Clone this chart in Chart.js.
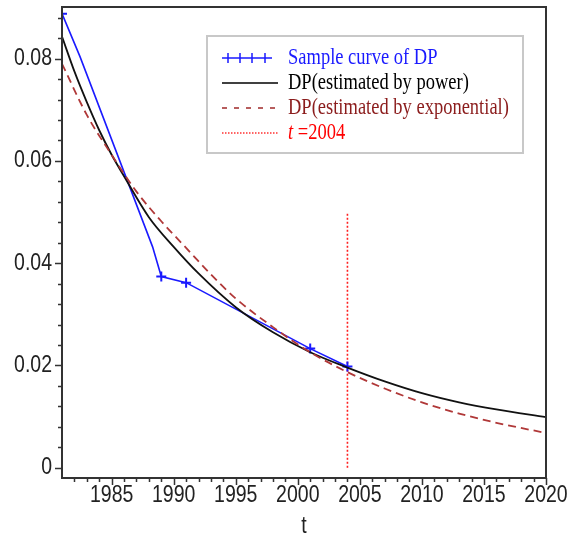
<!DOCTYPE html>
<html>
<head>
<meta charset="utf-8">
<script src="https://cdn.jsdelivr.net/npm/chart.js@4/dist/chart.umd.min.js"></script>
<style>
  html, body { margin: 0; padding: 0; background: #fff; }
</style>
</head>
<body>
<canvas id="dp-chart" width="582" height="541"></canvas>
<script>
// sample curve of DP: marked points, plus the bends of the drawn line
const sampleYears = [1981, 1989, 1991, 2001, 2004];
const sampleDP = [0.0888, 0.0374, 0.0362, 0.0233, 0.0198];
const curveYears = [1981, 1982.45, 1988.3, 1989, 1991, 2001, 2004];
const curveDP = [0.0888, 0.0804, 0.0432, 0.0374, 0.0362, 0.0233, 0.0198];

// DP estimated by power
const powerYears = [1981, 1982, 1983, 1984, 1985, 1986, 1988, 1990, 1992, 1995, 1998, 2001, 2004, 2007, 2010, 2013, 2016, 2020];
const powerDP = [0.0843, 0.0775, 0.0715, 0.0660, 0.0612, 0.0570, 0.0490, 0.0432, 0.0380, 0.0314, 0.0265, 0.0226, 0.0196, 0.0169, 0.0146, 0.0128, 0.0114, 0.0099];

// DP estimated by exponential
const expYears = [1981, 1983, 1985, 1987, 1989, 1991, 1993, 1995, 1998, 2001, 2004, 2007, 2010, 2013, 2016, 2020];
const expDP = [0.0790, 0.0690, 0.0612, 0.0540, 0.0482, 0.0430, 0.0378, 0.0331, 0.0275, 0.0226, 0.0187, 0.0155, 0.0128, 0.0106, 0.0088, 0.0068];

// t = 2004 marker line
const markYears = [2004, 2004];
const markDP = [0, 0.05];

const xTicks = [1985, 1990, 1995, 2000, 2005, 2010, 2015, 2020];
const xTickLabels = ['1985', '1990', '1995', '2000', '2005', '2010', '2015', '2020'];
const yTicks = [0, 0.02, 0.04, 0.06, 0.08];
const yTickLabels = ['0', '0.02', '0.04', '0.06', '0.08'];
const xTitle = 't';

const legendItems = [
  { text: 'Sample curve of DP', color: '#1a1aff' },
  { text: 'DP(estimated by power)', color: '#000000' },
  { text: 'DP(estimated by exponential)', color: '#8b1c1c' },
  { text: '=2004', italic: 't ', color: '#ff0000' }
];

function pts(xs, ys) {
  return xs.map((x, i) => ({ x: x, y: ys[i] }));
}

// the source picture is stretched a bit vertically, so text is drawn taller
function tallText(ctx, str, x, y, align) {
  ctx.save();
  ctx.translate(x, y);
  ctx.scale(1, 1.2);
  ctx.textAlign = align;
  ctx.fillText(str, 0, 0);
  ctx.restore();
}

// frame, outward ticks, tick labels and axis title
const framePlugin = {
  id: 'frame',
  afterDraw(chart) {
    const ctx = chart.ctx;
    const a = chart.chartArea;
    const xs = chart.scales.x, ys = chart.scales.y;
    ctx.save();
    ctx.strokeStyle = '#333';
    ctx.lineWidth = 2;
    ctx.strokeRect(a.left, a.top, a.right - a.left, a.bottom - a.top);
    ctx.lineWidth = 1.5;
    ctx.beginPath();
    for (let yr = 1982; yr <= 2020; yr++) {
      const px = Math.round(xs.getPixelForValue(yr)) + 0.5;
      const len = yr % 5 === 0 ? 7 : 4;
      ctx.moveTo(px, a.bottom);
      ctx.lineTo(px, a.bottom + len);
    }
    for (let k = 0; k <= 22; k++) {
      const py = Math.round(ys.getPixelForValue(k * 0.004)) + 0.5;
      const len = k % 5 === 0 ? 7 : 4;
      ctx.moveTo(a.left, py);
      ctx.lineTo(a.left - len, py);
    }
    ctx.stroke();

    ctx.fillStyle = '#222';
    ctx.font = '19.5px "Liberation Sans", Arial';
    ctx.textBaseline = 'middle';
    xTicks.forEach((v, i) => tallText(ctx, xTickLabels[i], xs.getPixelForValue(v), a.bottom + 18, 'center'));
    yTicks.forEach((v, i) => tallText(ctx, yTickLabels[i], a.left - 10, ys.getPixelForValue(v), 'right'));
    tallText(ctx, xTitle, (a.left + a.right) / 2, a.bottom + 49, 'center');
    ctx.restore();
  }
};

// boxed legend inside the plot
const legendPlugin = {
  id: 'boxLegend',
  afterDraw(chart) {
    const ctx = chart.ctx;
    const bx = 207, by = 36, bw = 316, bh = 117;
    ctx.save();
    ctx.fillStyle = '#fff';
    ctx.fillRect(bx, by, bw, bh);
    ctx.strokeStyle = '#c8c8c8';
    ctx.lineWidth = 2;
    ctx.strokeRect(bx, by, bw, bh);

    const rowY = [58, 83, 108, 133];
    const x0 = 222, x1 = 278, tx = 288;

    // row 1: ++++
    ctx.strokeStyle = '#1a1aff';
    ctx.lineWidth = 1.5;
    ctx.beginPath();
    ctx.moveTo(x0, rowY[0]); ctx.lineTo(272, rowY[0]);
    [228, 240, 252, 265].forEach(cx => {
      ctx.moveTo(cx - 4, rowY[0]); ctx.lineTo(cx + 4, rowY[0]);
      ctx.moveTo(cx, rowY[0] - 5); ctx.lineTo(cx, rowY[0] + 5);
    });
    ctx.stroke();
    // row 2: solid black
    ctx.strokeStyle = '#000';
    ctx.beginPath(); ctx.moveTo(x0, rowY[1]); ctx.lineTo(x1, rowY[1]); ctx.stroke();
    // row 3: dashed dark red
    ctx.strokeStyle = '#a02828';
    ctx.setLineDash([5, 7]);
    ctx.beginPath(); ctx.moveTo(x0, rowY[2]); ctx.lineTo(x1, rowY[2]); ctx.stroke();
    // row 4: dotted red
    ctx.strokeStyle = '#ff3030';
    ctx.setLineDash([1.5, 1.5]);
    ctx.beginPath(); ctx.moveTo(x0, rowY[3]); ctx.lineTo(x1, rowY[3]); ctx.stroke();
    ctx.setLineDash([]);

    ctx.textBaseline = 'middle';
    ctx.textAlign = 'left';
    legendItems.forEach((it, i) => {
      ctx.save();
      ctx.translate(tx, rowY[i]);
      ctx.scale(1, 1.2);
      ctx.fillStyle = it.color;
      let off = 0;
      if (it.italic) {
        ctx.font = 'italic 18.5px "Liberation Serif"';
        ctx.fillText(it.italic, 0, 0);
        off = ctx.measureText(it.italic).width;
      }
      ctx.font = '18.5px "Liberation Serif"';
      ctx.fillText(it.text, off, 0);
      ctx.restore();
    });
    ctx.restore();
  }
};

new Chart(document.getElementById('dp-chart').getContext('2d'), {
  type: 'line',
  data: {
    datasets: [
      {
        data: pts(expYears, expDP),
        borderColor: '#b03838',
        borderWidth: 1.8,
        borderDash: [8, 5],
        pointRadius: 0,
        cubicInterpolationMode: 'monotone'
      },
      {
        data: pts(powerYears, powerDP),
        borderColor: '#111',
        borderWidth: 1.8,
        pointRadius: 0,
        cubicInterpolationMode: 'monotone'
      },
      {
        data: pts(curveYears, curveDP),
        borderColor: '#1a1aff',
        borderWidth: 1.6,
        pointRadius: 0
      },
      {
        data: pts(sampleYears, sampleDP),
        showLine: false,
        borderColor: '#1a1aff',
        borderWidth: 2,
        pointStyle: 'cross',
        pointRadius: 5
      },
      {
        data: pts(markYears, markDP),
        borderColor: '#ff2020',
        borderWidth: 1.6,
        borderDash: [2, 2],
        pointRadius: 0
      }
    ]
  },
  options: {
    responsive: false,
    animation: false,
    layout: { padding: { top: 0, right: 36, left: 0, bottom: 0 } },
    plugins: { legend: { display: false }, tooltip: { enabled: false } },
    scales: {
      x: {
        type: 'linear',
        min: 1981,
        max: 2020,
        grid: { display: false, drawTicks: false },
        border: { display: false },
        afterBuildTicks: s => { s.ticks = xTicks.map(v => ({ value: v })); },
        afterFit: s => { s.height = 63; },
        ticks: { display: false }
      },
      y: {
        min: -0.002,
        max: 0.0901,
        grid: { display: false, drawTicks: false },
        border: { display: false },
        afterBuildTicks: s => { s.ticks = yTicks.map(v => ({ value: v })); },
        afterFit: s => { s.width = 62; },
        ticks: { display: false }
      }
    }
  },
  plugins: [framePlugin, legendPlugin]
});
</script>
</body>
</html>
